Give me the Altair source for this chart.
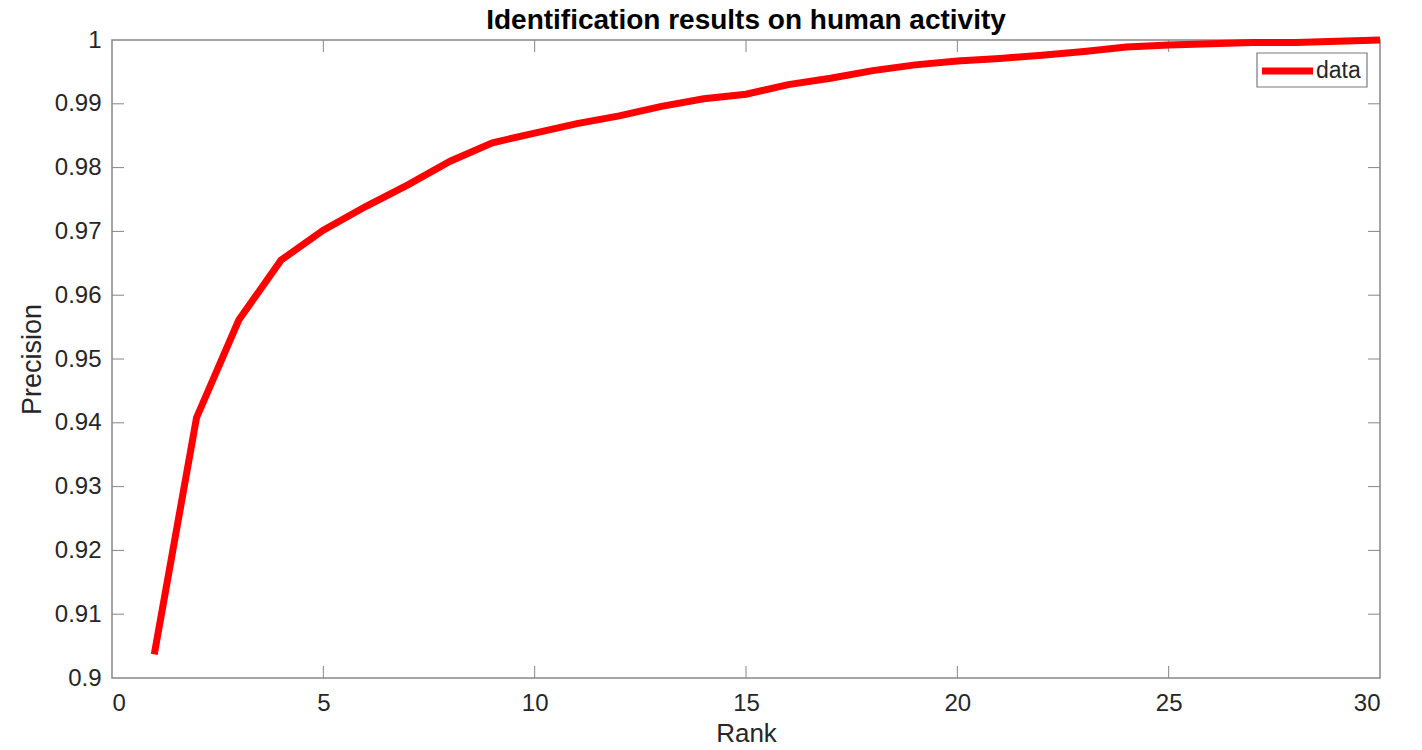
import altair as alt
import pandas as pd

ranks = list(range(1, 31))
precision = [0.9037, 0.9408, 0.9561, 0.9655, 0.9702, 0.9739, 0.9773, 0.9810, 0.9839, 0.9854,
             0.9869, 0.9881, 0.9896, 0.9908, 0.9915, 0.9930, 0.9940, 0.9952, 0.9961, 0.9967,
             0.9971, 0.9976, 0.9982, 0.9989, 0.9992, 0.9994, 0.9996, 0.9996, 0.9998, 1.0000]
series_name = "data"
x_ticks = [5, 10, 15, 20, 25]
y_ticks = [0.91, 0.92, 0.93, 0.94, 0.95, 0.96, 0.97, 0.98, 0.99]

W, H = 1268, 638
FONT = "Liberation Sans"
TXT = "#262626"
AX = "#868686"
RED = "#ff0000"

df = pd.DataFrame({"Rank": ranks, "Precision": precision, "series": [series_name] * len(ranks)})

xs = alt.Scale(domain=[0, 30], nice=False)
ys = alt.Scale(domain=[0.9, 1.0], nice=False, zero=False)

line = alt.Chart(df).mark_line(strokeWidth=7, clip=False, color=RED).encode(
    x=alt.X("Rank:Q", scale=xs,
            axis=alt.Axis(title="Rank", values=list(range(0, 31, 5)), domain=False, ticks=False,
                          grid=False, labelFontSize=24, titleFontSize=26, labelPadding=13,
                          titlePadding=5, labelColor=TXT, titleColor=TXT, titleFontWeight="normal")),
    y=alt.Y("Precision:Q", scale=ys,
            axis=alt.Axis(title="Precision", values=[0.9] + y_ticks + [1.0], domain=False, ticks=False,
                          grid=False, labelFontSize=24, titleFontSize=27, labelPadding=11,
                          titlePadding=8, labelColor=TXT, titleColor=TXT, titleFontWeight="normal",
                          labelExpr="format(datum.value, '.2~f')")),
)

xt = pd.DataFrame({"x": x_ticks})
yt = pd.DataFrame({"y": y_ticks})

bottom_ticks = alt.Chart(xt).mark_rule(color=AX, strokeWidth=1).encode(
    x=alt.X("x:Q", scale=xs), y=alt.value(H), y2=alt.value(H - 12))
top_ticks = alt.Chart(xt).mark_rule(color=AX, strokeWidth=1).encode(
    x=alt.X("x:Q", scale=xs), y=alt.value(0), y2=alt.value(12))
left_ticks = alt.Chart(yt).mark_rule(color=AX, strokeWidth=1).encode(
    y=alt.Y("y:Q", scale=ys), x=alt.value(0), x2=alt.value(12))
right_ticks = alt.Chart(yt).mark_rule(color=AX, strokeWidth=1).encode(
    y=alt.Y("y:Q", scale=ys), x=alt.value(W), x2=alt.value(W - 12))

leg = pd.DataFrame({"series": [series_name]})
leg_box = alt.Chart(leg).mark_rect(fill="white", stroke="#7a7a7a", strokeWidth=1.2).encode(
    x=alt.value(1145), x2=alt.value(1255), y=alt.value(13), y2=alt.value(47))
leg_line = alt.Chart(leg).mark_rule(color=RED, strokeWidth=7).encode(
    x=alt.value(1150), x2=alt.value(1201), y=alt.value(31))
leg_text = alt.Chart(leg).mark_text(align="left", baseline="middle", fontSize=23, color=TXT,
                                    font=FONT).encode(
    x=alt.value(1204), y=alt.value(31), text="series:N")

chart = alt.layer(bottom_ticks, top_ticks, left_ticks, right_ticks, line,
                  leg_box, leg_line, leg_text).properties(
    width=W, height=H,
    title=alt.Title("Identification results on human activity", fontSize=28, fontWeight="bold",
                    color="#000000", font=FONT, offset=6, dy=15),
    autosize=alt.AutoSizeParams(type="none"),
    padding={"left": 112, "top": 40, "right": 42, "bottom": 72},
).configure(font=FONT).configure_view(stroke=AX, strokeWidth=1.5)

chart.save("out.html", embed_options={"renderer": "svg", "actions": False})
